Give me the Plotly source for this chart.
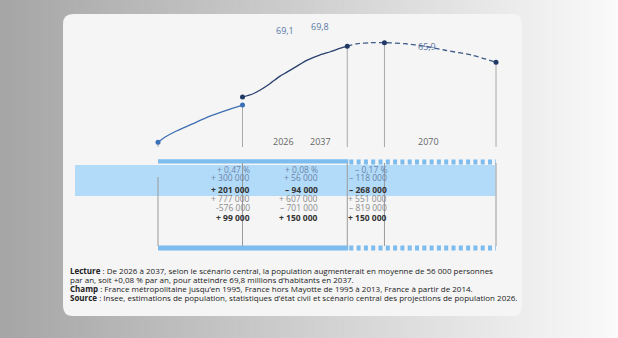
import plotly.graph_objects as go

# ---------------- data ----------------
years_metro = [1970, 1972, 1975, 1980, 1985, 1990, 1995]
pop_metro = [50.0, 51.0, 52.1, 53.6, 55.1, 56.3, 57.4]

years_fr = [1995, 1998, 2000, 2003, 2006, 2008, 2011, 2014, 2018, 2021, 2024, 2026]
pop_fr = [59.0, 59.6, 60.3, 61.6, 63.1, 63.9, 65.1, 66.3, 67.4, 68.0, 68.7, 69.1]

years_proj = [2026, 2029, 2033, 2037, 2043, 2049, 2055, 2063, 2070]
pop_proj = [69.1, 69.6, 69.8, 69.8, 69.6, 69.1, 68.3, 67.3, 65.9]

value_labels = ["69,1", "69,8", "65,9"]
year_labels = ["2026", "2037", "2070"]

col1 = ["+ 0,47 %", "+ 300 000", "+ 201 000", "+ 777 000", "-576 000", "+ 99 000"]
col2 = ["+ 0,08 %", "+ 56 000", "– 94 000", "+ 607 000", "– 701 000", "+ 150 000"]
col3 = ["– 0,17 %", "– 118 000", "– 268 000", "+ 551 000", "– 819 000", "+ 150 000"]

notes = [
    "<b>Lecture</b> : De 2026 à 2037, selon le scénario central, la population augmenterait en moyenne de 56 000 personnes",
    "par an, soit +0,08 % par an, pour atteindre 69,8 millions d’habitants en 2037.",
    "<b>Champ</b> : France métropolitaine jusqu’en 1995, France hors Mayotte de 1995 à 2013, France à partir de 2014.",
    "<b>Source</b> : Insee, estimations de population, statistiques d’état civil et scénario central des projections de population 2026.",
]

W, H = 618, 338
FONT = "Open Sans"


def px(x):
    return x / W


def py(y):
    return 1 - y / H


fig = go.Figure()

# lines
fig.add_trace(go.Scatter(x=years_metro, y=pop_metro, mode="lines",
                         line=dict(color="#3f6fb2", width=1.3, shape="spline", smoothing=0.6),
                         hoverinfo="skip", showlegend=False))
fig.add_trace(go.Scatter(x=years_fr, y=pop_fr, mode="lines",
                         line=dict(color="#263f6c", width=1.3, shape="spline", smoothing=0.6),
                         hoverinfo="skip", showlegend=False))
fig.add_trace(go.Scatter(x=years_proj, y=pop_proj, mode="lines",
                         line=dict(color="#3d5a8a", width=1.3, dash="5px,3px", shape="spline", smoothing=0.8),
                         hoverinfo="skip", showlegend=False))

# markers
fig.add_trace(go.Scatter(x=[years_metro[0], years_metro[-1]], y=[pop_metro[0], pop_metro[-1]],
                         mode="markers", marker=dict(color="#3b6fb8", size=5),
                         cliponaxis=False, hoverinfo="skip", showlegend=False))
mk_years = [years_fr[0], years_proj[0], years_proj[3], years_proj[-1]]
mk_pops = [pop_fr[0], pop_proj[0], pop_proj[3], pop_proj[-1]]
fig.add_trace(go.Scatter(x=mk_years, y=mk_pops, mode="markers",
                         marker=dict(color="#1f3864", size=5),
                         cliponaxis=False, hoverinfo="skip", showlegend=False))

shapes = []

# background gradient strips
N = 124
for i in range(N):
    t = i / (N - 1)
    c = int(166 + (250 - 166) * t)
    shapes.append(dict(type="rect", xref="paper", yref="paper",
                       x0=i / N, x1=(i + 1) / N + 0.002, y0=0, y1=1,
                       fillcolor=f"rgb({c},{c},{c})", line=dict(width=0), layer="below"))

# rounded card
cx0, cy0, cx1, cy1, r = 63, 14, 522, 316, 10
path = (f"M {px(cx0 + r)} {py(cy0)} L {px(cx1 - r)} {py(cy0)} "
        f"Q {px(cx1)} {py(cy0)} {px(cx1)} {py(cy0 + r)} "
        f"L {px(cx1)} {py(cy1 - r)} Q {px(cx1)} {py(cy1)} {px(cx1 - r)} {py(cy1)} "
        f"L {px(cx0 + r)} {py(cy1)} Q {px(cx0)} {py(cy1)} {px(cx0)} {py(cy1 - r)} "
        f"L {px(cx0)} {py(cy0 + r)} Q {px(cx0)} {py(cy0)} {px(cx0 + r)} {py(cy0)} Z")
shapes.append(dict(type="path", xref="paper", yref="paper", path=path,
                   fillcolor="#f5f5f5", line=dict(width=0), layer="below"))

# table band and bars
shapes.append(dict(type="rect", xref="paper", yref="paper",
                   x0=px(75), x1=px(495.5), y0=py(196), y1=py(165),
                   fillcolor="#b2dbf9", line=dict(width=0), layer="below"))
for (ya, yb) in [(159.3, 163.5), (245.5, 250.5)]:
    shapes.append(dict(type="rect", xref="x", yref="paper",
                       x0=years_metro[0], x1=2026.3, y0=py(yb), y1=py(ya),
                       fillcolor="#7cbcef", line=dict(width=0), layer="below"))
for (yc, wd) in [(162, 5), (248, 5)]:
    shapes.append(dict(type="line", xref="x", yref="paper",
                       x0=2026.6, x1=years_proj[-1], y0=py(yc), y1=py(yc),
                       line=dict(color="#7cbcef", width=wd, dash="4px,3.3px"), layer="below"))

# drop lines from points
DROP_BOTTOM = 49.06
for yr, v in [(years_metro[0], pop_metro[0]), (years_metro[-1], pop_metro[-1]),
              (years_proj[0], pop_proj[0]), (years_proj[3], pop_proj[3]),
              (years_proj[-1], pop_proj[-1])]:
    shapes.append(dict(type="line", xref="x", yref="y", x0=yr, x1=yr, y0=v, y1=DROP_BOTTOM,
                       line=dict(color="#a8a8a8", width=1), layer="below"))

# table vertical lines
for yr, top in [(years_metro[0], 177), (years_metro[-1], 163), (years_proj[0], 163),
                (years_proj[3], 163), (years_proj[-1], 163)]:
    shapes.append(dict(type="line", xref="x", yref="paper", x0=yr, x1=yr,
                       y0=py(top), y1=py(246),
                       line=dict(color="#9a9a9a", width=1), layer="above"))

annotations = []
# value labels above
for txt, (x, y) in zip(value_labels, [(285, 30), (320, 27), (427, 46)]):
    annotations.append(dict(text=txt, x=px(x), y=py(y), xref="paper", yref="paper",
                            showarrow=False, xanchor="center", yanchor="middle",
                            font=dict(family=FONT, size=9, color="#5878a4")))
for txt, x in zip(year_labels, [283.5, 320, 428]):
    annotations.append(dict(text=txt, x=px(x), y=py(141), xref="paper", yref="paper",
                            showarrow=False, xanchor="center", yanchor="middle",
                            font=dict(family=FONT, size=9, color="#666666")))

row_y = [169, 177.7, 189.3, 198.3, 207.3, 217.3]
row_col = ["#6a84a8", "#6a84a8", "#333333", "#8c8c8c", "#8c8c8c", "#333333"]
for col, xr in [(col1, 251.7), (col2, 319.5), (col3, 388.7)]:
    for i, txt in enumerate(col):
        t = f"<b>{txt}</b>" if i in (2, 5) else txt
        annotations.append(dict(text=t, x=px(xr), y=py(row_y[i]), xref="paper", yref="paper",
                                showarrow=False, xanchor="right", yanchor="middle",
                                font=dict(family=FONT, size=8.5, color=row_col[i])))

for txt, y in zip(notes, [270.7, 279.3, 288, 297]):
    annotations.append(dict(text=txt, x=px(68), y=py(y), xref="paper", yref="paper",
                            showarrow=False, xanchor="left", yanchor="middle", align="left",
                            font=dict(family=FONT, size=8, color="#222222")))

x0 = 1970 - 158 / 3.38
x1 = x0 + W / 3.38
ytop = 69.8 + 42.7 / 5.03
ybot = 69.8 - (H - 42.7) / 5.03

fig.update_layout(
    width=W, height=H, margin=dict(l=0, r=0, t=0, b=0),
    paper_bgcolor="#f0f0f0", plot_bgcolor="rgba(0,0,0,0)",
    xaxis=dict(range=[x0, x1], domain=[0, 1], visible=False, fixedrange=True),
    yaxis=dict(range=[ybot, ytop], domain=[0, 1], visible=False, fixedrange=True),
    shapes=shapes, annotations=annotations, showlegend=False,
)

fig.write_html("out.html")
